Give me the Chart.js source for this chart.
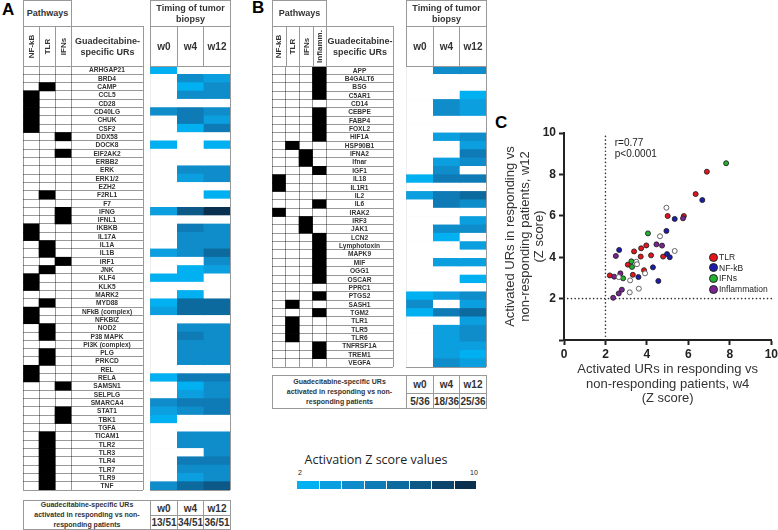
<!DOCTYPE html>
<html lang="en">
<head>
<meta charset="UTF-8">
<title>Guadecitabine-specific URs</title>
<script src="https://cdn.jsdelivr.net/npm/chart.js"></script>
<style>
    body {
        margin: 0;
        width: 778px;
        height: 530px;
        overflow: hidden;
        position: relative;
        background: #fff;
        font-family: "Liberation Sans", Arial, sans-serif;
        color: #333;
    }

    canvas { position: absolute; }

    .box {
        position: absolute;
        box-sizing: border-box;
        border: 1px solid #999;
        display: flex;
        align-items: center;
        justify-content: center;
        text-align: center;
        font-weight: bold;
        font-size: 9px;
        line-height: 11px;
    }

    .rot span { display: inline-block; transform: rotate(-90deg); white-space: nowrap; font-size: 8px; }
    .wk { font-size: 10px; }
    .small { font-size: 7px; line-height: 10px; }

    .panel { position: absolute; font-weight: bold; font-size: 17px; line-height: 17px; color: #000; }

    .leg { position: absolute; font-size: 8.5px; line-height: 10px; color: #222; }
    .dot { position: absolute; width: 7px; height: 7px; border-radius: 50%; border: 0.8px solid #222; }

    #zTitle { position: absolute; left: 296px; top: 451px; width: 160px; text-align: center; font-family: "Open Sans", sans-serif; font-size: 12.5px; color: #222; }
    .zcell { position: absolute; top: 481px; height: 8px; }
    .zlab { position: absolute; top: 469px; font-size: 7px; color: #222; }
</style>
</head>
<body>

<div class="panel" style="left:2px; top:1px;">A</div>
<div class="panel" style="left:252px; top:-1px;">B</div>
<div class="panel" style="left:495px; top:114px;">C</div>

<canvas id="tabelaA" width="121" height="425" style="left:23px; top:66px;"></canvas>
<canvas id="calorA" width="81" height="425" style="left:150px; top:66px;"></canvas>
<canvas id="tabelaB" width="122" height="302" style="left:272px; top:66px;"></canvas>
<canvas id="calorB" width="81" height="302" style="left:406px; top:66px;"></canvas>
<canvas id="dispersao" width="285" height="298" style="left:495px; top:112px;"></canvas>

<div id="zTitle">Activation Z score values</div>

<script>
// ---------- dados do painel A ----------
var nomesA = ['ARHGAP21', 'BRD4', 'CAMP', 'CCL5', 'CD28', 'CD40LG', 'CHUK', 'CSF2', 'DDX58', 'DOCK8',
    'EIF2AK2', 'ERBB2', 'ERK', 'ERK1/2', 'EZH2', 'F2RL1', 'F7', 'IFNG', 'IFNL1', 'IKBKB',
    'IL17A', 'IL1A', 'IL1B', 'IRF1', 'JNK', 'KLF4', 'KLK5', 'MARK2', 'MYD88', 'NFkB (complex)',
    'NFKBIZ', 'NOD2', 'P38 MAPK', 'PI3K (complex)', 'PLG', 'PRKCD', 'REL', 'RELA', 'SAMSN1', 'SELPLG',
    'SMARCA4', 'STAT1', 'TBK1', 'TGFA', 'TICAM1', 'TLR2', 'TLR3', 'TLR4', 'TLR7', 'TLR9', 'TNF'];
// N = NF-kB, T = TLR, I = IFNs
var viasA = ['', '', 'T', 'N', 'N', 'N', 'N', 'N', 'I', '',
    'I', '', '', '', '', 'T', '', 'I', 'I', 'N',
    'N', 'T', 'T', 'I', 'T', 'N', 'N', '', 'T', 'N',
    'N', 'T', 'T', '', 'T', 'T', 'N', 'N', 'I', '',
    '', 'I', 'I', '', 'T', 'T', 'T', 'T', 'T', 'T', 'T'];
var w0A = [2.5, null, null, null, null, 4, null, null, null, 2.5,
    null, null, null, null, null, null, null, 3, null, null,
    null, null, 3, null, null, 2.5, null, null, 2.5, 3,
    null, null, null, null, null, null, null, 2.5, null, null,
    4, 3, 2.5, null, null, null, null, null, null, null, 4];
var w4A = [null, 4, 2.5, 4, null, 5, 5, 2.5, null, null,
    null, null, 4, 3, null, null, null, 7.5, null, 5,
    4.5, 4.5, 4.5, null, 2.5, 2.5, null, 2.5, 6.5, 6.5,
    null, 4.5, 5, 4, 4, 4, null, 5, 2.5, 3,
    5, 4.5, null, null, 4, 4, null, 5, 4.5, 3, 6.5];
var w12A = [null, 3, 4, 4, null, 4, 3.5, 5, null, 2.5,
    null, null, 4, 4, null, 2.5, null, 9, null, 4,
    4, 4, 6, 4, 3.5, null, null, null, 6.5, 6,
    null, 4, 4, 4, 4, 4, null, 5.5, 4, 4,
    5.5, 5.5, null, null, 4, 4, 4, 5.5, 4, 4, 7.5];
var contagemA = ['13/51', '34/51', '36/51'];

// ---------- dados do painel B ----------
var nomesB = ['APP', 'B4GALT6', 'BSG', 'C5AR1', 'CD14', 'CEBPE', 'FABP4', 'FOXL2', 'HIF1A', 'HSP90B1',
    'IFNA2', 'Ifnar', 'IGF1', 'IL18', 'IL1R1', 'IL2', 'IL6', 'IRAK2', 'IRF3', 'JAK1',
    'LCN2', 'Lymphotoxin', 'MAPK9', 'MIF', 'OGG1', 'OSCAR', 'PPRC1', 'PTGS2', 'SASH1', 'TGM2',
    'TLR1', 'TLR5', 'TLR6', 'TNFRSF1A', 'TREM1', 'VEGFA'];
// N = NF-kB, T = TLR, I = IFNs, F = Inflamm.
var viasB = ['F', 'F', 'F', 'F', '', 'F', 'F', 'F', 'F', 'T',
    'I', 'I', 'F', 'N', 'N', '', 'F', 'N', 'I', 'I',
    'F', 'F', 'F', 'F', 'F', 'F', '', 'F', 'T', 'F',
    'T', 'T', 'T', 'F', 'F', ''];
var w0B = [null, null, null, null, null, null, null, null, null, null,
    null, null, null, 2.5, null, 3, null, null, null, null,
    null, null, null, null, null, null, null, 2.5, 4, 2.5,
    null, null, null, null, null, null];
var w4B = [4.5, null, null, null, 4, 4, null, null, 3, null,
    null, 3, 4, 5, null, 5, 5, null, null, 4,
    2.5, null, null, 3.5, null, null, null, 3, null, 5.5,
    null, 3.5, 3, 3, 3, 4];
var w12B = [4.5, null, null, 2.5, 3, 3, null, null, 4, 3,
    5, 4, null, 5.5, null, 6, 4.5, null, 3, 4.5,
    null, 3.5, null, 3.5, null, 2.5, null, 4, 3, 6.5,
    3, 4, 4, 3, 2.5, 3];
var contagemB = ['5/36', '18/36', '25/36'];

var semanas = ['w0', 'w4', 'w12'];

// ---------- dados do painel C (Z score w4 / w12) ----------
var tlrX = [6.89, 6.35, 5.0, 5.78, 3.97, 3.72, 3.38, 4.2, 4.78, 3.70, 3.08, 3.86, 3.32, 2.21];
var tlrY = [8.13, 7.05, 5.99, 5.99, 4.57, 4.43, 4.28, 4.09, 4.03, 4.03, 3.64, 3.37, 3.15, 3.12];
var nfkbX = [6.67, 5.34, 4.94, 2.66, 4.97, 5.1, 4.29, 3.59, 4.55];
var nfkbY = [6.76, 5.85, 5.27, 4.35, 4.15, 4.0, 3.51, 3.04, 2.85];
var ifnX = [7.82, 4.05, 3.25, 3.28, 2.85];
var ifnY = [8.54, 5.15, 3.80, 3.53, 2.98];
var inflX = [5.74, 4.46, 4.73, 2.5, 2.72, 2.42, 2.79, 2.64, 2.37];
var inflY = [5.88, 4.62, 4.56, 4.06, 3.22, 3.06, 2.43, 2.25, 2.04];
var outrosX = [4.94, 4.63, 5.34, 3.49, 3.52, 3.91, 2.64, 3.19, 3.17, 3.61];
var outrosY = [6.39, 5.01, 4.30, 3.78, 3.66, 3.22, 3.04, 2.88, 2.30, 2.48];

// escala de cores (2 -> 10)
var coresZ = ['#00b0f0', '#0b9fdf', '#0f8dcb', '#0e7bb6', '#0c6a9e', '#0c5886', '#0b456c', '#0a3050'];
function corZ(z) {
    if (z === null) return '#fff';
    var i = Math.max(0, Math.min(coresZ.length - 1, Math.floor(z - 2)));
    return coresZ[i];
}

function caixa(x, y, w, h, html, cls) {
    var d = document.createElement('div');
    d.className = 'box ' + (cls || '');
    d.style.left = x + 'px';
    d.style.top = y + 'px';
    d.style.width = (w + 1) + 'px';
    d.style.height = (h + 1) + 'px';
    d.innerHTML = html;
    document.body.appendChild(d);
}

// nomes dos URs desenhados na coluna propria, pela escala
var pluginNomes = {
    id: 'nomes',
    afterDraw: function (chart, args, opts) {
        if (opts.centro === undefined) return;
        var ctx = chart.ctx;
        var x = chart.scales.x.getPixelForValue(opts.centro);
        ctx.save();
        ctx.font = 'bold 6.6px "Liberation Sans"';
        ctx.fillStyle = '#333';
        ctx.textAlign = 'center';
        ctx.textBaseline = 'middle';
        chart.data.labels.forEach(function (nome, i) {
            ctx.fillText(nome, x, chart.scales.y.getPixelForValue(i) + 0.5);
        });
        ctx.restore();
    }
};

function tabela(id, nomes, colunas, corFn, xMax, linhasX, centroNomes) {
    var datasets = colunas.map(function (col) {
        return {
            data: col.map(function () { return 1; }),
            backgroundColor: col.map(corFn),
            borderWidth: 0,
            barPercentage: 1,
            categoryPercentage: 1
        };
    });
    return new Chart(document.getElementById(id), {
        type: 'bar',
        data: { labels: nomes, datasets: datasets },
        options: {
            indexAxis: 'y',
            responsive: false,
            animation: false,
            devicePixelRatio: 1,
            layout: { padding: { right: 1, bottom: 1 } },
            plugins: {
                legend: { display: false },
                tooltip: { enabled: false },
                nomes: { centro: centroNomes }
            },
            scales: {
                x: {
                    type: 'linear', stacked: true, min: 0, max: xMax, z: 1,
                    afterBuildTicks: function (eixo) {
                        eixo.ticks = linhasX.map(function (v) { return { value: v }; });
                    },
                    ticks: { display: false },
                    grid: { color: 'rgba(0,0,0,0.4)', drawTicks: false },
                    border: { display: false }
                },
                y: {
                    stacked: true, z: 1,
                    ticks: { display: false },
                    grid: { offset: true, color: 'rgba(0,0,0,0.4)', drawTicks: false },
                    border: { display: false }
                }
            }
        },
        plugins: [pluginNomes]
    });
}

function membro(vias, letra) {
    return vias.map(function (v) { return v === letra; });
}
function corVia(v) { return v ? '#000' : 'rgba(0,0,0,0)'; }

// ---------- painel A ----------
tabela('tabelaA', nomesA, [membro(viasA, 'N'), membro(viasA, 'T'), membro(viasA, 'I')], corVia, 7.5, [0, 1, 2, 3, 7.5], 5.25);
tabela('calorA', nomesA, [w0A, w4A, w12A], corZ, 3, [0, 1, 2, 3]);

caixa(23, 0, 48, 26, 'Pathways');
['NF-kB', 'TLR', 'IFNs'].forEach(function (t, i) { caixa(23 + 16 * i, 26, 16, 40, '<span>' + t + '</span>', 'rot'); });
caixa(71, 26, 72, 40, 'Guadecitabine-<br>specific URs');
caixa(150, 0, 80, 26, 'Timing of tumor<br>biopsy');
var colA = [150, 177, 203, 230];
semanas.forEach(function (s, i) { caixa(colA[i], 26, colA[i + 1] - colA[i], 40, s, 'wk'); });
caixa(23, 500, 127, 29, 'Guadecitabine-specific URs<br>activated in responding vs non-<br>responding patients', 'small');
semanas.forEach(function (s, i) {
    caixa(colA[i], 500, colA[i + 1] - colA[i], 15, s, 'wk');
    caixa(colA[i], 515, colA[i + 1] - colA[i], 14, contagemA[i], 'wk');
});

// ---------- painel B ----------
tabela('tabelaB', nomesB, [membro(viasB, 'N'), membro(viasB, 'T'), membro(viasB, 'I'), membro(viasB, 'F')], corVia, 8.96, [0, 1, 2, 3, 4, 8.96], 6.48);
tabela('calorB', nomesB, [w0B, w4B, w12B], corZ, 3, [0, 1, 2, 3]);

caixa(272, 0, 54, 26, 'Pathways');
['NF-kB', 'TLR', 'IFNs', 'Inflamm.'].forEach(function (t, i) { caixa(272 + 13.5 * i, 26, 13.5, 40, '<span>' + t + '</span>', 'rot'); });
caixa(326, 26, 67, 40, 'Guadecitabine-<br>specific URs');
caixa(406, 0, 80, 26, 'Timing of tumor<br>biopsy');
var colB = [406, 433, 459, 486];
semanas.forEach(function (s, i) { caixa(colB[i], 26, colB[i + 1] - colB[i], 40, s, 'wk'); });
caixa(272, 375, 134, 33, 'Guadecitabine-specific URs<br>activated in responding vs non-<br>responding patients', 'small');
semanas.forEach(function (s, i) {
    caixa(colB[i], 375, colB[i + 1] - colB[i], 18, s, 'wk');
    caixa(colB[i], 393, colB[i + 1] - colB[i], 15, contagemB[i], 'wk');
});

// legenda da escala de cores
coresZ.forEach(function (c, i) {
    var d = document.createElement('div');
    d.className = 'zcell';
    d.style.left = (297 + 22.5 * i) + 'px';
    d.style.width = '21.5px';
    d.style.background = c;
    document.body.appendChild(d);
});
[['2', 298], ['10', 470]].forEach(function (l) {
    var d = document.createElement('div');
    d.className = 'zlab';
    d.style.left = l[1] + 'px';
    d.textContent = l[0];
    document.body.appendChild(d);
});

// ---------- painel C ----------
function pontos(xs, ys) {
    return xs.map(function (x, i) { return { x: x, y: ys[i] }; });
}

var pluginLinhas = {
    id: 'linhas',
    beforeDatasetsDraw: function (chart) {
        var ctx = chart.ctx, sx = chart.scales.x, sy = chart.scales.y;
        ctx.save();
        ctx.strokeStyle = '#333';
        ctx.lineWidth = 1.6;
        ctx.lineCap = 'round';
        ctx.setLineDash([0.1, 3.6]);
        ctx.beginPath();
        ctx.moveTo(sx.getPixelForValue(2), sy.getPixelForValue(0));
        ctx.lineTo(sx.getPixelForValue(2), sy.getPixelForValue(10));
        ctx.moveTo(sx.getPixelForValue(0), sy.getPixelForValue(2));
        ctx.lineTo(sx.getPixelForValue(10), sy.getPixelForValue(2));
        ctx.stroke();
        ctx.setLineDash([]);
        ctx.font = '10px "Liberation Sans"';
        ctx.fillStyle = '#222';
        ctx.textBaseline = 'middle';
        ctx.fillText('r=0.77', sx.getPixelForValue(2.45), sy.getPixelForValue(9.5));
        ctx.fillText('p<0.0001', sx.getPixelForValue(2.45), sy.getPixelForValue(8.95));
        ctx.restore();
    }
};

var fonteEixo = { family: '"Liberation Sans"', size: 12, weight: 'bold' };
var fonteTitulo = { family: '"Liberation Sans"', size: 13, lineHeight: 1.13 };

new Chart(document.getElementById('dispersao'), {
    type: 'scatter',
    data: {
        datasets: [
            { label: 'Other', data: pontos(outrosX, outrosY), backgroundColor: '#fff', borderColor: '#555' },
            { label: 'Inflammation', data: pontos(inflX, inflY), backgroundColor: '#7b2391' },
            { label: 'IFNs', data: pontos(ifnX, ifnY), backgroundColor: '#22b02e' },
            { label: 'NF-kB', data: pontos(nfkbX, nfkbY), backgroundColor: '#1b1bb0' },
            { label: 'TLR', data: pontos(tlrX, tlrY), backgroundColor: '#e8141c' }
        ]
    },
    options: {
        responsive: false,
        animation: false,
        devicePixelRatio: 1,
        layout: { padding: { top: 21, right: 8, left: 0, bottom: 0 } },
        elements: { point: { radius: 2.5, borderWidth: 0.9, borderColor: '#222' } },
        plugins: { legend: { display: false }, tooltip: { enabled: false } },
        scales: {
            x: {
                min: 0, max: 10,
                ticks: { stepSize: 2, padding: 2, color: '#222', font: fonteEixo },
                grid: { drawOnChartArea: false, tickLength: 5, tickWidth: 2, tickColor: '#222' },
                border: { color: '#222', width: 2 },
                title: {
                    display: true, color: '#333', font: fonteTitulo, padding: { top: 0, bottom: 4 },
                    text: ['Activated URs in responding vs', 'non-responding patients, w4', '(Z score)']
                },
                afterFit: function (eixo) { eixo.height = 70; }
            },
            y: {
                min: 0, max: 10,
                ticks: {
                    stepSize: 2, padding: 3, color: '#222', font: fonteEixo,
                    callback: function (v) { return v === 0 ? '' : v; }
                },
                grid: { drawOnChartArea: false, tickLength: 5, tickWidth: 2, tickColor: '#222' },
                border: { color: '#222', width: 2 },
                title: {
                    display: true, color: '#333', font: fonteTitulo, padding: { top: 8, bottom: 0 },
                    text: ['Activated URs in responding vs', 'non-responding patients, w12', '(Z score)']
                },
                afterFit: function (eixo) { eixo.width = 69; }
            }
        }
    },
    plugins: [pluginLinhas]
});

// legenda do painel C
var legendaC = [['TLR', '#e8141c'], ['NF-kB', '#1b1bb0'], ['IFNs', '#22b02e'], ['Inflammation', '#7b2391']];
legendaC.forEach(function (item, i) {
    var cy = 257 + 10.7 * i;
    var dot = document.createElement('div');
    dot.className = 'dot';
    dot.style.left = '708.5px';
    dot.style.top = (cy - 4.3) + 'px';
    dot.style.background = item[1];
    document.body.appendChild(dot);
    var t = document.createElement('div');
    t.className = 'leg';
    t.style.left = '719px';
    t.style.top = (cy - 5) + 'px';
    t.textContent = item[0];
    document.body.appendChild(t);
});
</script>
</body>
</html>
